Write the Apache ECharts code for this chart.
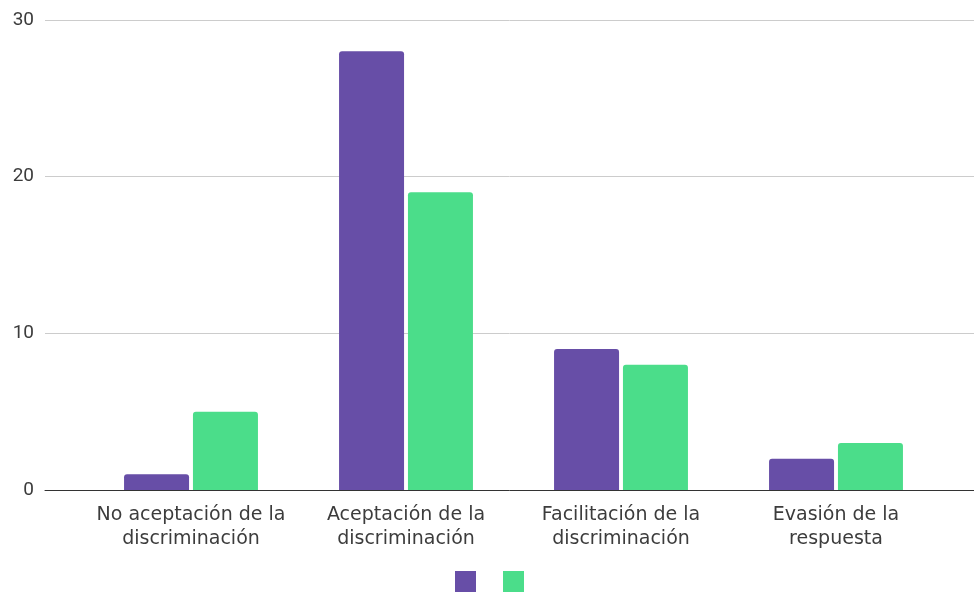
<!DOCTYPE html>
<html><head><meta charset="utf-8">
<script src="https://cdn.jsdelivr.net/npm/echarts@6/dist/echarts.min.js"></script>
<style>html,body{margin:0;padding:0;background:#fff}#c{width:974px;height:592px}</style>
</head><body><div id="c"></div>
<script>
const categories = ['No aceptación de la\ndiscriminación', 'Aceptación de la\ndiscriminación', 'Facilitación de la\ndiscriminación', 'Evasión de la\nrespuesta'];
const seriesA = [1, 28, 9, 2];
const seriesB = [5, 19, 8, 3];
const yTicks = [0, 10, 20, 30];

const chart = echarts.init(document.getElementById('c'));
chart.setOption({
  animation: false,
  grid: [
    {left: 45, right: 0, top: 20, bottom: 102},
    {left: 83.5, right: 30.5, top: 20, bottom: 102}
  ],
  legend: {
    data: ['A', 'B'],
    left: 455, top: 571, padding: 0,
    itemWidth: 21, itemHeight: 21, itemGap: 27,
    icon: 'rect',
    formatter: () => '',
    textStyle: {fontSize: 1, padding: 0},
    selectedMode: false
  },
  xAxis: [
    {gridIndex: 0, type: 'value', min: 0, max: 1, axisLabel: {show: false}, axisTick: {show: false}, splitLine: {show: false},
     axisLine: {show: true, lineStyle: {color: '#333', width: 1}}},
    {gridIndex: 1, type: 'category', data: categories, axisLine: {show: false}, axisTick: {show: false},
     axisLabel: {color: '#3c3c3c', fontFamily: '"DejaVu Sans", sans-serif', fontSize: 19, lineHeight: 24, margin: 13, interval: 0}}
  ],
  yAxis: [
    {gridIndex: 0, type: 'value', min: yTicks[0], max: yTicks[yTicks.length-1], interval: 10,
     axisLine: {show: false}, axisTick: {show: false},
     axisLabel: {color: '#3c3c3c', fontFamily: 'Roboto, sans-serif', fontSize: 19, margin: 11},
     splitLine: {lineStyle: {color: '#ccc', width: 1}}},
    {gridIndex: 1, type: 'value', min: 0, max: 30, interval: 10, show: false, splitLine: {show: false}}
  ],
  series: [
    {name: 'A', type: 'bar', xAxisIndex: 1, yAxisIndex: 1, data: seriesA, barWidth: 65, barGap: '6%',
     itemStyle: {color: '#674ea7', borderRadius: [3, 3, 0, 0]}},
    {name: 'B', type: 'bar', xAxisIndex: 1, yAxisIndex: 1, data: seriesB, barWidth: 65, barGap: '6%',
     itemStyle: {color: '#4bdd8a', borderRadius: [3, 3, 0, 0]}}
  ]
});
</script></body></html>
